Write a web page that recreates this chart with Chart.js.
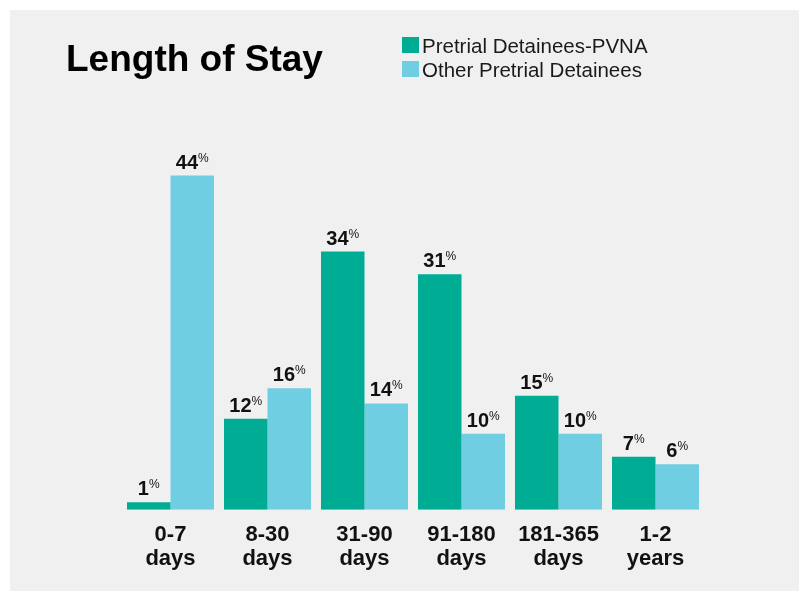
<!DOCTYPE html>
<html>
<head>
<meta charset="utf-8">
<script src="https://cdn.jsdelivr.net/npm/chart.js@4/dist/chart.umd.min.js"></script>
<style>
  html, body { margin: 0; padding: 0; background: #fff; }
  #wrap { position: relative; width: 802px; height: 594px; }
</style>
</head>
<body>
<div id="wrap"><canvas id="stayChart" width="802" height="594"></canvas></div>
<script>
// chart data
const chartTitle = 'Length of Stay';
const categories = [['0-7', 'days'], ['8-30', 'days'], ['31-90', 'days'], ['91-180', 'days'], ['181-365', 'days'], ['1-2', 'years']];
const seriesNames = ['Pretrial Detainees-PVNA', 'Other Pretrial Detainees'];
const pvnaValues = [1, 12, 34, 31, 15, 7];
const otherValues = [44, 16, 14, 10, 10, 6];
const seriesColors = ['#00ad94', '#70cee2'];

const FONT = '"Liberation Sans", Arial, Helvetica, sans-serif';

// grey panel, title and legend
const panelPlugin = {
  id: 'panel',
  beforeDraw(chart) {
    const ctx = chart.ctx;
    ctx.save();
    ctx.fillStyle = '#f0f0f0';
    ctx.fillRect(10, 10, 789, 581);

    ctx.fillStyle = '#000';
    ctx.font = 'bold 37px ' + FONT;
    ctx.textBaseline = 'alphabetic';
    ctx.textAlign = 'left';
    ctx.fillText(chartTitle, 66, 71);

    ctx.font = '20.5px ' + FONT;
    chart.data.datasets.forEach((ds, i) => {
      const y = 37 + i * 24;
      ctx.fillStyle = ds.backgroundColor;
      ctx.fillRect(402, y, 17, 16);
      ctx.fillStyle = '#1a1a1a';
      ctx.fillText(ds.label, 422, y + 16);
    });
    ctx.restore();
  }
};

// value labels with small raised percent sign
const valueLabels = {
  id: 'valueLabels',
  afterDatasetsDraw(chart) {
    const ctx = chart.ctx;
    ctx.save();
    ctx.fillStyle = '#111';
    ctx.textBaseline = 'alphabetic';
    ctx.textAlign = 'left';
    chart.data.datasets.forEach((ds, i) => {
      const meta = chart.getDatasetMeta(i);
      meta.data.forEach((bar, j) => {
        const num = String(ds.data[j]);
        ctx.font = 'bold 20px ' + FONT;
        const wn = ctx.measureText(num).width;
        ctx.font = '12px ' + FONT;
        const wp = ctx.measureText('%').width;
        const x0 = bar.x - (wn + wp) / 2;
        const base = bar.y - 7;
        ctx.font = 'bold 20px ' + FONT;
        ctx.fillText(num, x0, base);
        ctx.font = '12px ' + FONT;
        ctx.fillText('%', x0 + wn, base - 7);
      });
    });
    ctx.restore();
  }
};

new Chart(document.getElementById('stayChart'), {
  type: 'bar',
  data: {
    labels: categories,
    datasets: [
      { label: seriesNames[0], data: pvnaValues, backgroundColor: seriesColors[0] },
      { label: seriesNames[1], data: otherValues, backgroundColor: seriesColors[1] }
    ]
  },
  options: {
    responsive: false,
    animation: false,
    categoryPercentage: 0.897,
    barPercentage: 1,
    layout: { padding: { left: 122, right: 98, top: 130, bottom: 10 } },
    plugins: {
      legend: { display: false },
      title: { display: false },
      tooltip: { enabled: false }
    },
    scales: {
      x: {
        grid: { display: false, drawTicks: false },
        border: { display: false },
        ticks: {
          color: '#111',
          padding: 14,
          font: { family: FONT, size: 22, weight: 'bold', lineHeight: 1.05 }
        }
      },
      y: {
        display: false,
        min: 0,
        max: 50
      }
    }
  },
  plugins: [panelPlugin, valueLabels]
});
</script>
</body>
</html>
